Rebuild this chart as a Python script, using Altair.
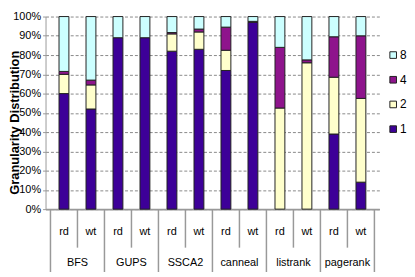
import altair as alt
import pandas as pd

groups = ["BFS", "GUPS", "SSCA2", "canneal", "listrank", "pagerank"]
kinds = ["rd", "wt"]
gran_keys = ["1", "2", "4", "8"]
gran_colors = ["#3D0098", "#FFFFCC", "#8E148C", "#CCFFFF"]

# percent of accesses per granularity, one entry per bar (BFS rd, BFS wt, GUPS rd, ...)
g1 = [60, 52, 89, 89, 82, 83, 72, 97, 0, 0, 39, 14]
g2 = [10, 12.5, 0, 0, 9, 9, 10.5, 0, 52.5, 76, 29.5, 43.5]
g4 = [1.5, 2.5, 0, 0, 0.7, 1.5, 12, 0.5, 31.5, 1.5, 21, 32.5]
g8 = [28.5, 33, 11, 11, 8.3, 6.5, 5.5, 2.5, 16, 22.5, 10.5, 10]

series = {"1": g1, "2": g2, "4": g4, "8": g8}

rows = []
for gi, g in enumerate(groups):
    for ki, k in enumerate(kinds):
        idx = gi * 2 + ki
        for order, key in enumerate(gran_keys):
            rows.append({"idx": idx, "group": g, "kind": k, "gran": key,
                         "ord": order, "v": series[key][idx] / 100.0})
df = pd.DataFrame(rows)

kind_df = pd.DataFrame([{"idx": gi * 2 + ki, "kind": k}
                        for gi in range(len(groups)) for ki, k in enumerate(kinds)])
group_df = pd.DataFrame([{"pos": gi * 2 + 0.5, "group": g} for gi, g in enumerate(groups)])
short_sep = pd.DataFrame([{"pos": gi * 2 + 0.5} for gi in range(len(groups))])
long_sep = pd.DataFrame([{"pos": gi * 2 - 0.5} for gi in range(len(groups) + 1)])

FONT = "Liberation Sans"
xscale = alt.Scale(domain=[-0.5, 11.5], nice=False, zero=False)

bars = alt.Chart(df).transform_filter("datum.v > 0").mark_bar(
    size=10, stroke="#222222", strokeWidth=1
).encode(
    x=alt.X("idx:Q", scale=xscale,
            axis=alt.Axis(labels=False, ticks=False, grid=False, domain=True,
                          domainColor="#999999", domainWidth=2, title=None)),
    y=alt.Y("sum(v):Q", stack="zero",
            scale=alt.Scale(domain=[0, 1], nice=False),
            axis=alt.Axis(format="%", values=[i / 10 for i in range(11)],
                          title="Granularity  Distribution",
                          titleFont="Liberation Sans", titleFontSize=13,
                          titleFontWeight="bold", titleColor="#000000",
                          titleX=-31, titleY=107, titleAngle=270,
                          titleAlign="center", titleBaseline="middle",
                          labelFont=FONT, labelFontSize=11, labelColor="#000000",
                          labelPadding=2,
                          grid=True, gridDash=[3, 2], gridColor="#888888",
                          gridWidth=1, domainColor="#999999", domainWidth=1,
                          tickColor="#999999", tickSize=3)),
    color=alt.Color("gran:N", scale=alt.Scale(domain=gran_keys, range=gran_colors),
                    legend=alt.Legend(title=None, values=["8", "4", "2", "1"],
                                      orient="none", legendX=346, legendY=33,
                                      symbolType="square", symbolSize=45,
                                      symbolStrokeColor="#222222",
                                      symbolStrokeWidth=1,
                                      labelFont=FONT, labelFontSize=12,
                                      labelColor="#000000", rowPadding=13,
                                      labelOffset=1)),
    order=alt.Order("ord:Q"),
)

short_rules = alt.Chart(short_sep).mark_rule(color="#999999", strokeWidth=1.5).encode(
    x=alt.X("pos:Q", scale=xscale), y=alt.value(195), y2=alt.value(234)
)
long_rules = alt.Chart(long_sep).mark_rule(color="#999999", strokeWidth=1.5).encode(
    x=alt.X("pos:Q", scale=xscale), y=alt.value(195), y2=alt.value(270)
)

kind_text = alt.Chart(kind_df).mark_text(font=FONT, fontSize=11, color="#000000",
                                         baseline="middle").encode(
    x=alt.X("idx:Q", scale=xscale), y=alt.value(218), text="kind:N"
)
group_text = alt.Chart(group_df).mark_text(font=FONT, fontSize=11, color="#000000",
                                           baseline="middle").encode(
    x=alt.X("pos:Q", scale=xscale), y=alt.value(250), text="group:N"
)

chart = alt.layer(bars, short_rules, long_rules, kind_text, group_text).properties(
    width=338, height=195,
    autosize=alt.AutoSizeParams(type="none"),
    padding={"left": 38, "top": 7, "right": 28, "bottom": 62},
).configure_view(stroke=None)

chart.save("out.html", embed_options={"renderer": "svg", "actions": False})
